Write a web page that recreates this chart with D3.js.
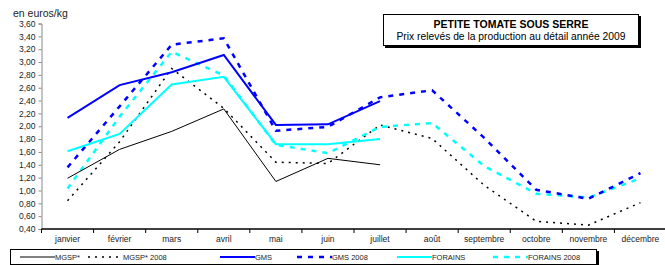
<!DOCTYPE html>
<html>
<head>
<meta charset="utf-8">
<script src="https://cdn.jsdelivr.net/npm/d3@7"></script>
<style>
  body { margin: 0; background: #fff; }
  svg { display: block; font-family: "Liberation Sans", Arial, sans-serif; }
</style>
</head>
<body>
<div id="chart"></div>
<script>
// months and prices (euros/kg)
let months = ['janvier', 'février', 'mars', 'avril', 'mai', 'juin', 'juillet',
  'août', 'septembre', 'octobre', 'novembre', 'décembre']
let yTicks = [0.4, 0.6, 0.8, 1.0, 1.2, 1.4, 1.6, 1.8, 2.0, 2.2, 2.4, 2.6, 2.8, 3.0, 3.2, 3.4, 3.6]

let mgsp = [1.19, 1.64, 1.92, 2.27, 1.14, 1.50, 1.40]
let mgsp2008 = [0.84, 1.76, 2.90, 2.28, 1.44, 1.42, 2.02, 1.81, 1.08, 0.52, 0.46, 0.81]
let gms = [2.13, 2.64, 2.84, 3.11, 2.02, 2.03, 2.39]
let gms2008 = [1.36, 2.31, 3.27, 3.37, 1.93, 1.99, 2.45, 2.56, 1.82, 1.01, 0.87, 1.27]
let forains = [1.61, 1.88, 2.65, 2.77, 1.72, 1.72, 1.80]
let forains2008 = [1.03, 2.15, 3.16, 2.79, 1.71, 1.58, 1.99, 2.05, 1.38, 0.95, 0.89, 1.19]

let seriesNames = ['MGSP*', 'MGSP* 2008', 'GMS', 'GMS 2008', 'FORAINS', 'FORAINS 2008']

let width = 665
let height = 265

let series = [
  { name: seriesNames[0], values: mgsp, color: '#000000', width: 1, dash: null },
  { name: seriesNames[1], values: mgsp2008, color: '#000000', width: 1.5, dash: '2,5' },
  { name: seriesNames[2], values: gms, color: '#0000ff', width: 2, dash: null },
  { name: seriesNames[3], values: gms2008, color: '#0000ff', width: 2.5, dash: '5,6' },
  { name: seriesNames[4], values: forains, color: '#00ffff', width: 2, dash: null },
  { name: seriesNames[5], values: forains2008, color: '#00ffff', width: 2.5, dash: '5,6' }
]

let svg = d3.select('#chart')
  .append('svg')
  .attr('width', width)
  .attr('height', height)

svg.append('rect')
  .attr('width', width)
  .attr('height', height)
  .attr('fill', '#ffffff')

let x = d3.scaleBand()
  .domain(months)
  .range([41.5, 666.5])
  .padding(0)

let y = d3.scaleLinear()
  .domain([0.4, 3.6])
  .range([229, 23.5])

let fmt = d => d.toFixed(2).replace('.', ',')

// y axis
let yAxis = svg.append('g')
  .attr('transform', 'translate(41.5,0)')
  .call(d3.axisLeft(y).tickValues(yTicks).tickSize(3).tickFormat(fmt))
yAxis.select('.domain').attr('stroke', '#888')
yAxis.selectAll('.tick line').attr('stroke', '#888')
yAxis.selectAll('.tick text')
  .attr('x', -6)
  .attr('fill', '#222')
  .style('font-size', '8.5px')
  .style('font-family', '"Liberation Sans", Arial, sans-serif')

// x axis
let xAxisG = svg.append('g').attr('transform', 'translate(0,229)')
xAxisG.append('line')
  .attr('x1', x.range()[0])
  .attr('x2', x.range()[1])
  .attr('stroke', '#000')
  .attr('stroke-width', 1.5)
xAxisG.selectAll('line.tk')
  .data(months)
  .enter()
  .append('line')
  .attr('class', 'tk')
  .attr('x1', d => x(d))
  .attr('x2', d => x(d))
  .attr('y1', 0)
  .attr('y2', 4)
  .attr('stroke', '#000')
xAxisG.selectAll('text')
  .data(months)
  .enter()
  .append('text')
  .attr('x', d => x(d) + x.bandwidth() / 2)
  .attr('y', 13)
  .attr('text-anchor', 'middle')
  .attr('fill', '#222')
  .style('font-size', '8.5px')
  .text(d => d)

svg.append('text')
  .attr('x', 13)
  .attr('y', 17)
  .attr('fill', '#222')
  .style('font-size', '10.5px')
  .text('en euros/kg')

// lines
let line = d3.line()
  .x((d, i) => x(months[i]) + x.bandwidth() / 2)
  .y(d => y(d))

let order = [1, 5, 3, 0, 4, 2]
svg.append('g')
  .selectAll('path')
  .data(order.map(i => series[i]))
  .enter()
  .append('path')
  .attr('d', d => line(d.values))
  .attr('fill', 'none')
  .attr('stroke', d => d.color)
  .attr('stroke-width', d => d.width)
  .attr('stroke-dasharray', d => d.dash)
  .attr('stroke-linejoin', 'miter')

// title box
let tb = svg.append('g')
tb.append('rect')
  .attr('x', 385).attr('y', 16).attr('width', 256).attr('height', 32)
  .attr('fill', '#000')
tb.append('rect')
  .attr('x', 383.5).attr('y', 14.5).attr('width', 255).attr('height', 31)
  .attr('fill', '#fff').attr('stroke', '#000')
tb.append('text')
  .attr('x', 511).attr('y', 28)
  .attr('text-anchor', 'middle')
  .style('font-size', '10.5px')
  .style('font-weight', 'bold')
  .text('PETITE TOMATE SOUS SERRE')
tb.append('text')
  .attr('x', 511).attr('y', 40)
  .attr('text-anchor', 'middle')
  .style('font-size', '10.3px')
  .text('Prix relevés de la production au détail année 2009')

// legend
let lg = svg.append('g')
lg.append('rect')
  .attr('x', 12).attr('y', 251).attr('width', 587).attr('height', 16)
  .attr('fill', '#000')
lg.append('rect')
  .attr('x', 10.5).attr('y', 249.5).attr('width', 586).attr('height', 15)
  .attr('fill', '#fff').attr('stroke', '#000')
let legendX = [20, 88, 220, 297, 397, 493]
let item = lg.selectAll('g.item')
  .data(series)
  .enter()
  .append('g')
  .attr('class', 'item')
  .attr('transform', (d, i) => 'translate(' + legendX[i] + ',257)')
item.append('line')
  .attr('x1', 0).attr('x2', 35)
  .attr('stroke', d => d.color)
  .attr('stroke-width', d => d.width)
  .attr('stroke-dasharray', d => d.dash)
item.append('text')
  .attr('x', 35)
  .attr('y', 2.5)
  .style('font-size', '7.5px')
  .attr('fill', '#222')
  .text(d => d.name)
</script>
</body>
</html>
